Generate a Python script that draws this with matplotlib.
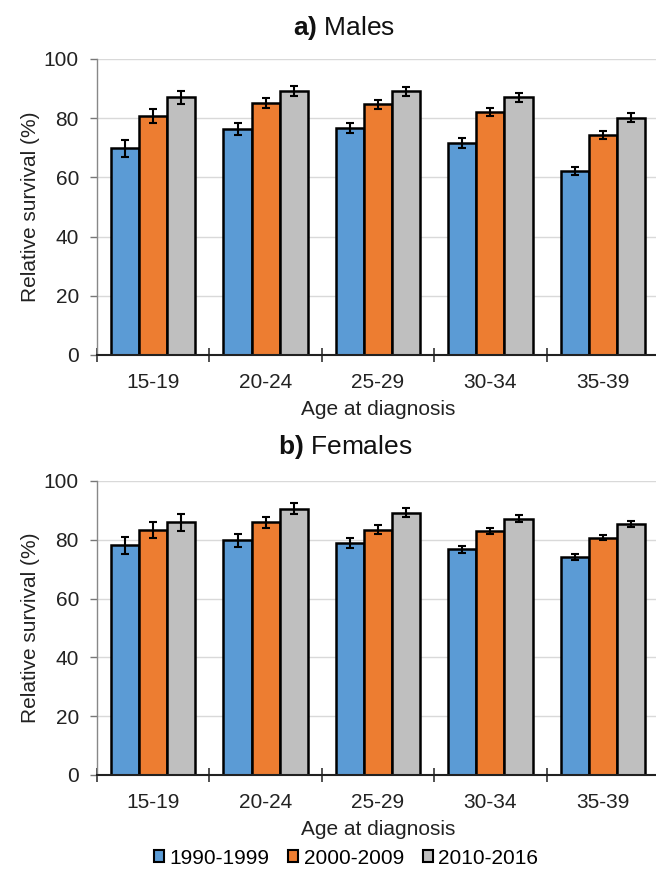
import numpy as np
import matplotlib
matplotlib.use("Agg")
import matplotlib.pyplot as plt
from matplotlib.patches import Patch

plt.rcParams["font.family"] = ["Liberation Sans", "DejaVu Sans"]
plt.rcParams["mathtext.fontset"] = "custom"
plt.rcParams["mathtext.rm"] = "Liberation Sans"
plt.rcParams["mathtext.bf"] = "Liberation Sans:bold"

# --- data ---------------------------------------------------------------
AGES = ["15-19", "20-24", "25-29", "30-34", "35-39"]
PERIODS = ["1990-1999", "2000-2009", "2010-2016"]
COLORS = ["#5B9BD5", "#ED7D31", "#BFBFBF"]

males_1990 = [69.8, 76.3, 76.7, 71.6, 62.2]
males_2000 = [80.7, 85.2, 84.7, 82.1, 74.4]
males_2010 = [87.0, 89.2, 89.1, 87.0, 80.2]
males_err_1990 = [2.9, 2.1, 1.7, 1.7, 1.4]
males_err_2000 = [2.3, 1.7, 1.5, 1.4, 1.3]
males_err_2010 = [2.3, 1.7, 1.6, 1.5, 1.5]

females_1990 = [78.2, 79.8, 78.9, 76.8, 74.1]
females_2000 = [83.2, 85.9, 83.5, 83.0, 80.7]
females_2010 = [85.9, 90.6, 89.2, 87.2, 85.5]
females_err_1990 = [2.9, 2.2, 1.6, 1.2, 1.0]
females_err_2000 = [2.7, 1.9, 1.5, 1.1, 0.9]
females_err_2010 = [2.8, 1.9, 1.5, 1.3, 1.0]
# ------------------------------------------------------------------------

TXT = "#222222"


def draw_panel(ax, values, errors):
    x = np.arange(len(AGES))
    width = 0.25
    for i, (vals, errs) in enumerate(zip(values, errors)):
        ax.bar(x + (i - 1) * width, vals, width, color=COLORS[i],
               edgecolor="black", linewidth=1.8, zorder=3,
               yerr=errs, capsize=3.2,
               error_kw=dict(ecolor="black", elinewidth=1.5, capthick=1.5, zorder=4))
    ax.set_xlim(-0.5, len(AGES) - 0.5)
    ax.set_ylim(0, 100)
    ax.set_yticks(range(0, 101, 20))
    ax.set_xticks(x)
    ax.set_xticklabels(AGES, fontsize=15, color=TXT)
    ax.set_xticks(np.arange(-0.5, len(AGES) + 0.5, 1), minor=True)
    ax.tick_params(axis="x", which="major", length=0, pad=13)
    ax.tick_params(axis="x", which="minor", direction="inout", length=10,
                   width=1.2, color="#333333")
    ax.tick_params(axis="y", direction="out", length=5, width=1.0,
                   color="#777777", labelsize=15, labelcolor=TXT, pad=8)
    ax.grid(axis="y", color="#D9D9D9", linewidth=1.0, zorder=0)
    for s in ["top", "right"]:
        ax.spines[s].set_visible(False)
    ax.spines["left"].set_color("#888888")
    ax.spines["left"].set_linewidth(1.0)
    ax.spines["bottom"].set_color("#222222")
    ax.spines["bottom"].set_linewidth(1.5)
    ax.spines["bottom"].set_zorder(5)
    ax.set_ylabel("Relative survival (%)", fontsize=15, color=TXT, labelpad=3)
    ax.set_xlabel("Age at diagnosis", fontsize=15, color=TXT, labelpad=6)


W, H = 656, 873
fig = plt.figure(figsize=(W / 100, H / 100), dpi=100)

left = 97 / W
width = 562 / W
ax1 = fig.add_axes([left, (H - 355) / H, width, 296 / H])
ax2 = fig.add_axes([left, (H - 775) / H, width, 294 / H])

draw_panel(ax1, [males_1990, males_2000, males_2010],
           [males_err_1990, males_err_2000, males_err_2010])
draw_panel(ax2, [females_1990, females_2000, females_2010],
           [females_err_1990, females_err_2000, females_err_2010])

fig.text(344 / W, 1 - 28 / H, r"$\mathbf{a)}$ Males", ha="center", va="center",
         fontsize=19, color="#111111")
fig.text(345 / W, 1 - 447 / H, r"$\mathbf{b)}$ Females", ha="center", va="center",
         fontsize=19, color="#111111")

handles = [Patch(facecolor=c, edgecolor="black", linewidth=1.5) for c in COLORS]
fig.legend(handles, PERIODS, loc="center", bbox_to_anchor=(346 / W, 1 - 858 / H),
           ncol=3, frameon=False, fontsize=15, handlelength=0.5, handleheight=0.5,
           handletextpad=0.25, columnspacing=0.9, borderaxespad=0)

fig.savefig("out.png", dpi=100)
